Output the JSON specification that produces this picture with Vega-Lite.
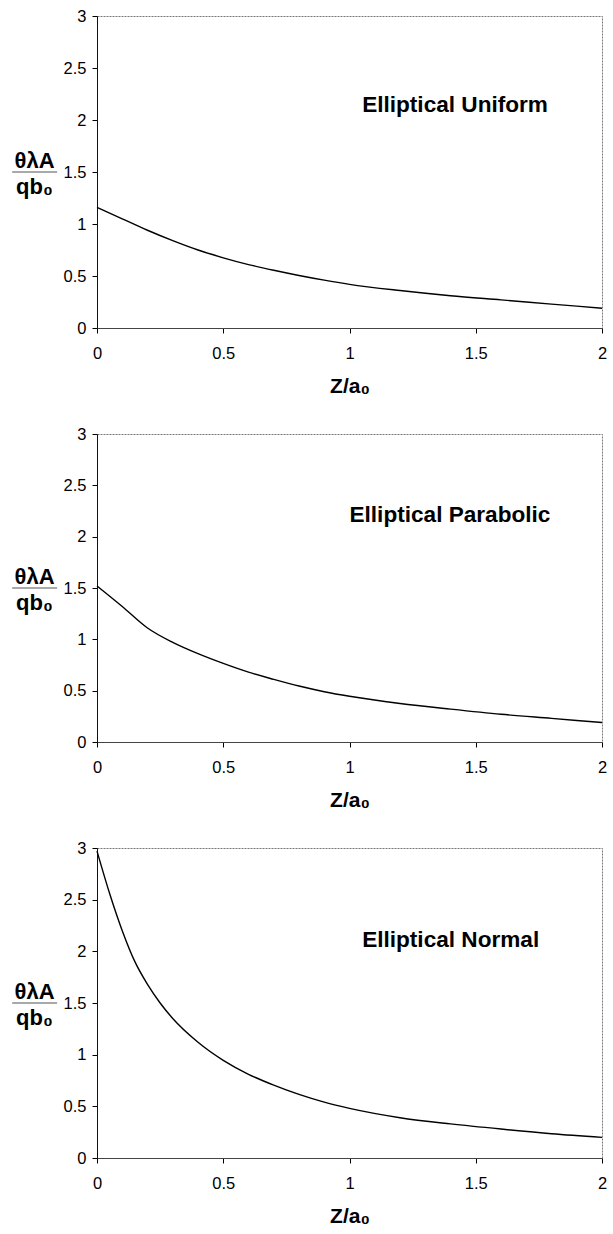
{
  "$schema": "https://vega.github.io/schema/vega-lite/v6.json",
  "padding": {"left": 11, "top": 7, "right": 8, "bottom": 10},
  "background": "white",
  "bounds": "flush",
  "spacing": 106,
  "config": {
    "font": "Liberation Sans",
    "view": {"stroke": "#777", "strokeDash": [2, 1], "strokeWidth": 1},
    "axis": {
      "grid": false,
      "labelFont": "Liberation Sans",
      "labelFontSize": 16.5,
      "labelColor": "black",
      "tickColor": "black",
      "tickSize": 5,
      "labelFlush": false,
      "labelOverlap": false,
      "titleFont": "Liberation Sans",
      "titleColor": "black",
      "titleFontWeight": "bold",
      "format": "~g"
    }
  },
  "datasets": {
    "uniform": [
      {"z": 0, "v": 1.16}, {"z": 0.1, "v": 1.05}, {"z": 0.2, "v": 0.94}, {"z": 0.3, "v": 0.84},
      {"z": 0.4, "v": 0.75}, {"z": 0.5, "v": 0.675}, {"z": 0.6, "v": 0.61}, {"z": 0.7, "v": 0.555},
      {"z": 0.8, "v": 0.505}, {"z": 0.9, "v": 0.46}, {"z": 1.0, "v": 0.42}, {"z": 1.2, "v": 0.36},
      {"z": 1.4, "v": 0.31}, {"z": 1.6, "v": 0.27}, {"z": 1.8, "v": 0.23}, {"z": 2.0, "v": 0.19}
    ],
    "parabolic": [
      {"z": 0, "v": 1.52}, {"z": 0.1, "v": 1.32}, {"z": 0.2, "v": 1.11}, {"z": 0.3, "v": 0.97},
      {"z": 0.4, "v": 0.86}, {"z": 0.5, "v": 0.765}, {"z": 0.6, "v": 0.68}, {"z": 0.7, "v": 0.61},
      {"z": 0.8, "v": 0.545}, {"z": 0.9, "v": 0.49}, {"z": 1.0, "v": 0.445}, {"z": 1.2, "v": 0.375},
      {"z": 1.4, "v": 0.32}, {"z": 1.6, "v": 0.27}, {"z": 1.8, "v": 0.23}, {"z": 2.0, "v": 0.19}
    ],
    "normal": [
      {"z": 0, "v": 2.97}, {"z": 0.05, "v": 2.56}, {"z": 0.1, "v": 2.2}, {"z": 0.15, "v": 1.9},
      {"z": 0.2, "v": 1.68}, {"z": 0.25, "v": 1.5}, {"z": 0.3, "v": 1.35}, {"z": 0.4, "v": 1.12},
      {"z": 0.5, "v": 0.945}, {"z": 0.6, "v": 0.81}, {"z": 0.7, "v": 0.705}, {"z": 0.8, "v": 0.615},
      {"z": 0.9, "v": 0.54}, {"z": 1.0, "v": 0.48}, {"z": 1.2, "v": 0.39}, {"z": 1.4, "v": 0.33},
      {"z": 1.6, "v": 0.28}, {"z": 1.8, "v": 0.235}, {"z": 2.0, "v": 0.2}
    ]
  },
  "vconcat": [
    {
      "width": 505,
      "height": 312,
      "layer": [
        {
          "data": {"name": "uniform"},
          "mark": {"type": "line", "color": "black", "strokeWidth": 1.4, "interpolate": "monotone"},
          "encoding": {
            "x": {"field": "z", "type": "quantitative", "scale": {"domain": [0, 2]},
              "axis": {"values": [0, 0.5, 1, 1.5, 2], "labelPadding": 12, "domainColor": "#444", "title": "Z/a₀", "titleFontSize": 21, "titleBaseline": "alphabetic", "titleY": 64}},
            "y": {"field": "v", "type": "quantitative", "scale": {"domain": [0, 3]},
              "axis": {"values": [0, 0.5, 1, 1.5, 2, 2.5, 3], "labelPadding": 6, "domainColor": "#111", "title": ["θλA", "qb₀"], "titleAngle": 0, "titleAlign": "center", "titleBaseline": "alphabetic", "titleX": -63, "titleY": 151, "titleFontSize": 22, "titleLineHeight": 26}}
          }
        },
        {
          "data": {"values": [{}]},
          "mark": {"type": "text", "align": "left", "baseline": "middle", "fontSize": 22.6, "fontWeight": "bold", "color": "black"},
          "encoding": {"x": {"datum": 1.05}, "y": {"datum": 2.14}, "text": {"value": "Elliptical Uniform"}}
        },
        {
          "data": {"values": [{}]},
          "mark": {"type": "rule", "color": "#555", "strokeWidth": 1.2},
          "encoding": {"x": {"datum": -0.336}, "x2": {"datum": -0.158}, "y": {"datum": 1.5}}
        }
      ]
    },
    {
      "width": 505,
      "height": 308,
      "layer": [
        {
          "data": {"name": "parabolic"},
          "mark": {"type": "line", "color": "black", "strokeWidth": 1.4, "interpolate": "monotone"},
          "encoding": {
            "x": {"field": "z", "type": "quantitative", "scale": {"domain": [0, 2]},
              "axis": {"values": [0, 0.5, 1, 1.5, 2], "labelPadding": 12, "domainColor": "#444", "title": "Z/a₀", "titleFontSize": 21, "titleBaseline": "alphabetic", "titleY": 64}},
            "y": {"field": "v", "type": "quantitative", "scale": {"domain": [0, 3]},
              "axis": {"values": [0, 0.5, 1, 1.5, 2, 2.5, 3], "labelPadding": 6, "domainColor": "#111", "title": ["θλA", "qb₀"], "titleAngle": 0, "titleAlign": "center", "titleBaseline": "alphabetic", "titleX": -63, "titleY": 149, "titleFontSize": 22, "titleLineHeight": 26}}
          }
        },
        {
          "data": {"values": [{}]},
          "mark": {"type": "text", "align": "left", "baseline": "middle", "fontSize": 22.6, "fontWeight": "bold", "color": "black"},
          "encoding": {"x": {"datum": 1.0}, "y": {"datum": 2.21}, "text": {"value": "Elliptical Parabolic"}}
        },
        {
          "data": {"values": [{}]},
          "mark": {"type": "rule", "color": "#555", "strokeWidth": 1.2},
          "encoding": {"x": {"datum": -0.336}, "x2": {"datum": -0.158}, "y": {"datum": 1.5}}
        }
      ]
    },
    {
      "width": 505,
      "height": 310,
      "layer": [
        {
          "data": {"name": "normal"},
          "mark": {"type": "line", "color": "black", "strokeWidth": 1.4, "interpolate": "monotone"},
          "encoding": {
            "x": {"field": "z", "type": "quantitative", "scale": {"domain": [0, 2]},
              "axis": {"values": [0, 0.5, 1, 1.5, 2], "labelPadding": 12, "domainColor": "#444", "title": "Z/a₀", "titleFontSize": 21, "titleBaseline": "alphabetic", "titleY": 64}},
            "y": {"field": "v", "type": "quantitative", "scale": {"domain": [0, 3]},
              "axis": {"values": [0, 0.5, 1, 1.5, 2, 2.5, 3], "labelPadding": 6, "domainColor": "#111", "title": ["θλA", "qb₀"], "titleAngle": 0, "titleAlign": "center", "titleBaseline": "alphabetic", "titleX": -63, "titleY": 150, "titleFontSize": 22, "titleLineHeight": 26}}
          }
        },
        {
          "data": {"values": [{}]},
          "mark": {"type": "text", "align": "left", "baseline": "middle", "fontSize": 22.6, "fontWeight": "bold", "color": "black"},
          "encoding": {"x": {"datum": 1.05}, "y": {"datum": 2.11}, "text": {"value": "Elliptical Normal"}}
        },
        {
          "data": {"values": [{}]},
          "mark": {"type": "rule", "color": "#555", "strokeWidth": 1.2},
          "encoding": {"x": {"datum": -0.336}, "x2": {"datum": -0.158}, "y": {"datum": 1.5}}
        }
      ]
    }
  ]
}
